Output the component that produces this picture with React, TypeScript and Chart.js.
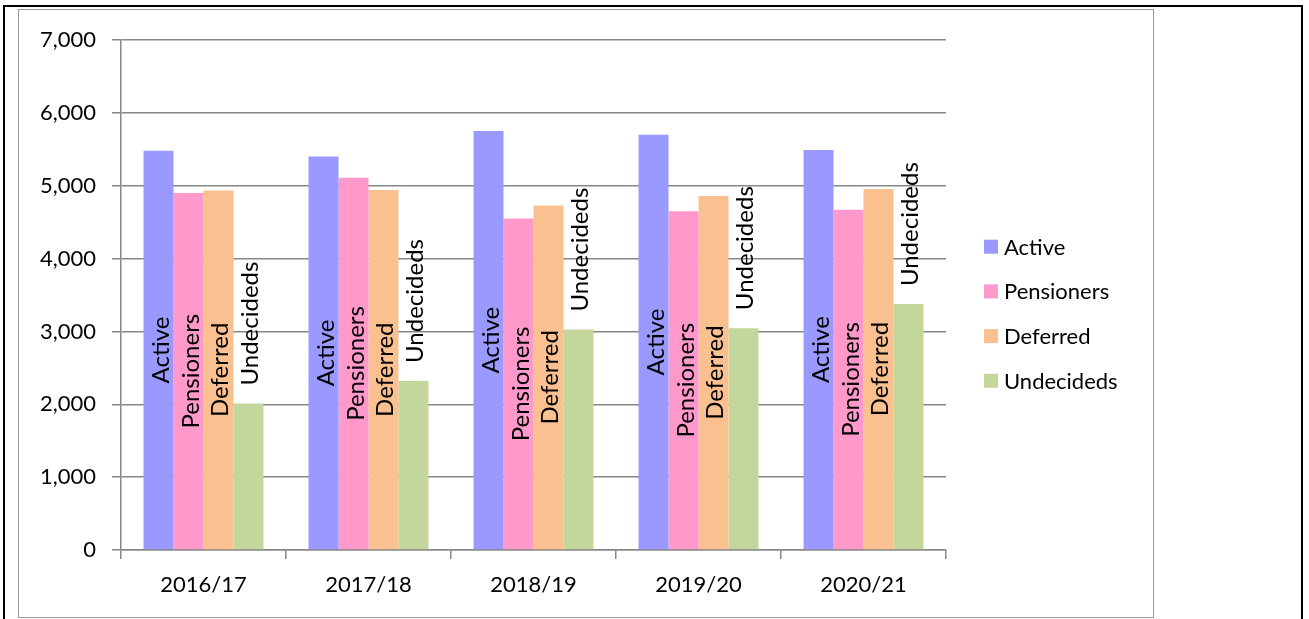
import React, { useEffect, useRef } from "react";
import { Chart, registerables } from "chart.js";

Chart.register(...registerables);

const categories = ["2016/17", "2017/18", "2018/19", "2019/20", "2020/21"];
const seriesNames = ["Active", "Pensioners", "Deferred", "Undecideds"];
const active = [5480, 5400, 5750, 5700, 5490];
const pensioners = [4900, 5110, 4550, 4650, 4670];
const deferred = [4935, 4940, 4730, 4860, 4955];
const undecideds = [2010, 2320, 3025, 3045, 3375];
const seriesColors = ["#9999FF", "#FF99CC", "#FAC090", "#C3D69B"];
const yMin = 0;
const yMax = 7000;
const yStep = 1000;

const LABEL_FONT = "Lato, 'Liberation Sans', sans-serif";
const TICK_FONT = "Lato, 'Liberation Sans', sans-serif";

const barLabelPlugin = {
  id: "barLabels",
  afterDatasetsDraw(chart: any) {
    const ctx = chart.ctx;
    ctx.save();
    ctx.fillStyle = "#000";
    ctx.font = `24px ${LABEL_FONT}`;
    chart.data.datasets.forEach((ds: any, di: number) => {
      const meta = chart.getDatasetMeta(di);
      meta.data.forEach((el: any) => {
        const x = el.x;
        const top = el.y;
        const base = el.base;
        ctx.save();
        if (di < 3) {
          ctx.translate(x, (top + base) / 2);
          ctx.rotate(-Math.PI / 2);
          ctx.textAlign = "center";
        } else {
          ctx.translate(x, top - 18);
          ctx.rotate(-Math.PI / 2);
          ctx.textAlign = "left";
        }
        ctx.textBaseline = "alphabetic";
        ctx.fillText(ds.label, 0, 10);
        ctx.restore();
      });
    });
    ctx.restore();
  },
};

const legendPlugin = {
  id: "sideLegend",
  afterDraw(chart: any) {
    const ctx = chart.ctx;
    ctx.save();
    ctx.font = `22px ${LABEL_FONT}`;
    ctx.textAlign = "left";
    ctx.textBaseline = "alphabetic";
    const startY = 246.7;
    const gap = 44.7;
    chart.data.datasets.forEach((ds: any, i: number) => {
      const cy = startY + i * gap;
      ctx.fillStyle = ds.backgroundColor;
      ctx.fillRect(984, cy - 7, 14, 14);
      ctx.fillStyle = "#000";
      ctx.fillText(ds.label, 1004, cy + 7.8);
    });
    ctx.restore();
  },
};

export default function App() {
  const canvasRef = useRef<HTMLCanvasElement | null>(null);

  useEffect(() => {
    if (!canvasRef.current) return;
    const seriesValues = [active, pensioners, deferred, undecideds];
    const chart = new Chart(canvasRef.current, {
      type: "bar",
      data: {
        labels: categories,
        datasets: seriesNames.map((name, i) => ({
          label: name,
          data: seriesValues[i],
          backgroundColor: seriesColors[i],
          borderWidth: 0,
          barPercentage: 1,
          categoryPercentage: 0.727,
        })),
      },
      options: {
        responsive: false,
        animation: false,
        devicePixelRatio: 1,
        layout: { padding: { left: 0, top: 40, right: 363, bottom: 0 } },
        plugins: {
          legend: { display: false },
          tooltip: { enabled: false },
          title: { display: false },
        },
        scales: {
          x: {
            offset: true,
            grid: {
              display: true,
              drawOnChartArea: false,
              drawTicks: true,
              tickLength: 9,
              color: "#878787",
              lineWidth: 1.5,
              offset: true,
            },
            border: { display: true, color: "#878787", width: 1.5 },
            ticks: {
              color: "#000",
              font: { family: TICK_FONT, size: 22 },
              padding: 13,
              maxRotation: 0,
            },
            afterFit: (axis: any) => {
              axis.height = 619 - 550;
            },
          },
          y: {
            min: yMin,
            max: yMax,
            grid: {
              color: "#878787",
              lineWidth: 1.5,
              tickLength: 9,
              drawTicks: true,
            },
            border: { display: true, color: "#878787", width: 1.5 },
            ticks: {
              stepSize: yStep,
              color: "#000",
              font: { family: TICK_FONT, size: 22 },
              padding: 16,
              callback: (v: any) => Number(v).toLocaleString("en-US"),
            },
            afterFit: (axis: any) => {
              axis.width = 121;
            },
          },
        },
      },
      plugins: [barLabelPlugin, legendPlugin],
    });
    return () => chart.destroy();
  }, []);

  return (
    <div
      style={{
        position: "fixed",
        left: 0,
        top: 0,
        width: 1309,
        height: 619,
        background: "#fff",
        overflow: "hidden",
      }}
    >
      <div
        style={{
          position: "absolute",
          left: 3,
          top: 5,
          width: 1303 - 3,
          height: 700,
          border: "2px solid #000",
          boxSizing: "border-box",
        }}
      />
      <div
        style={{
          position: "absolute",
          left: 18,
          top: 9,
          width: 1154 - 18,
          height: 618 - 9,
          border: "1.5px solid #9a9a9a",
          boxSizing: "border-box",
        }}
      />
      <canvas
        ref={canvasRef}
        width={1309}
        height={619}
        style={{ position: "absolute", left: 0, top: 0, width: 1309, height: 619 }}
      />
    </div>
  );
}
